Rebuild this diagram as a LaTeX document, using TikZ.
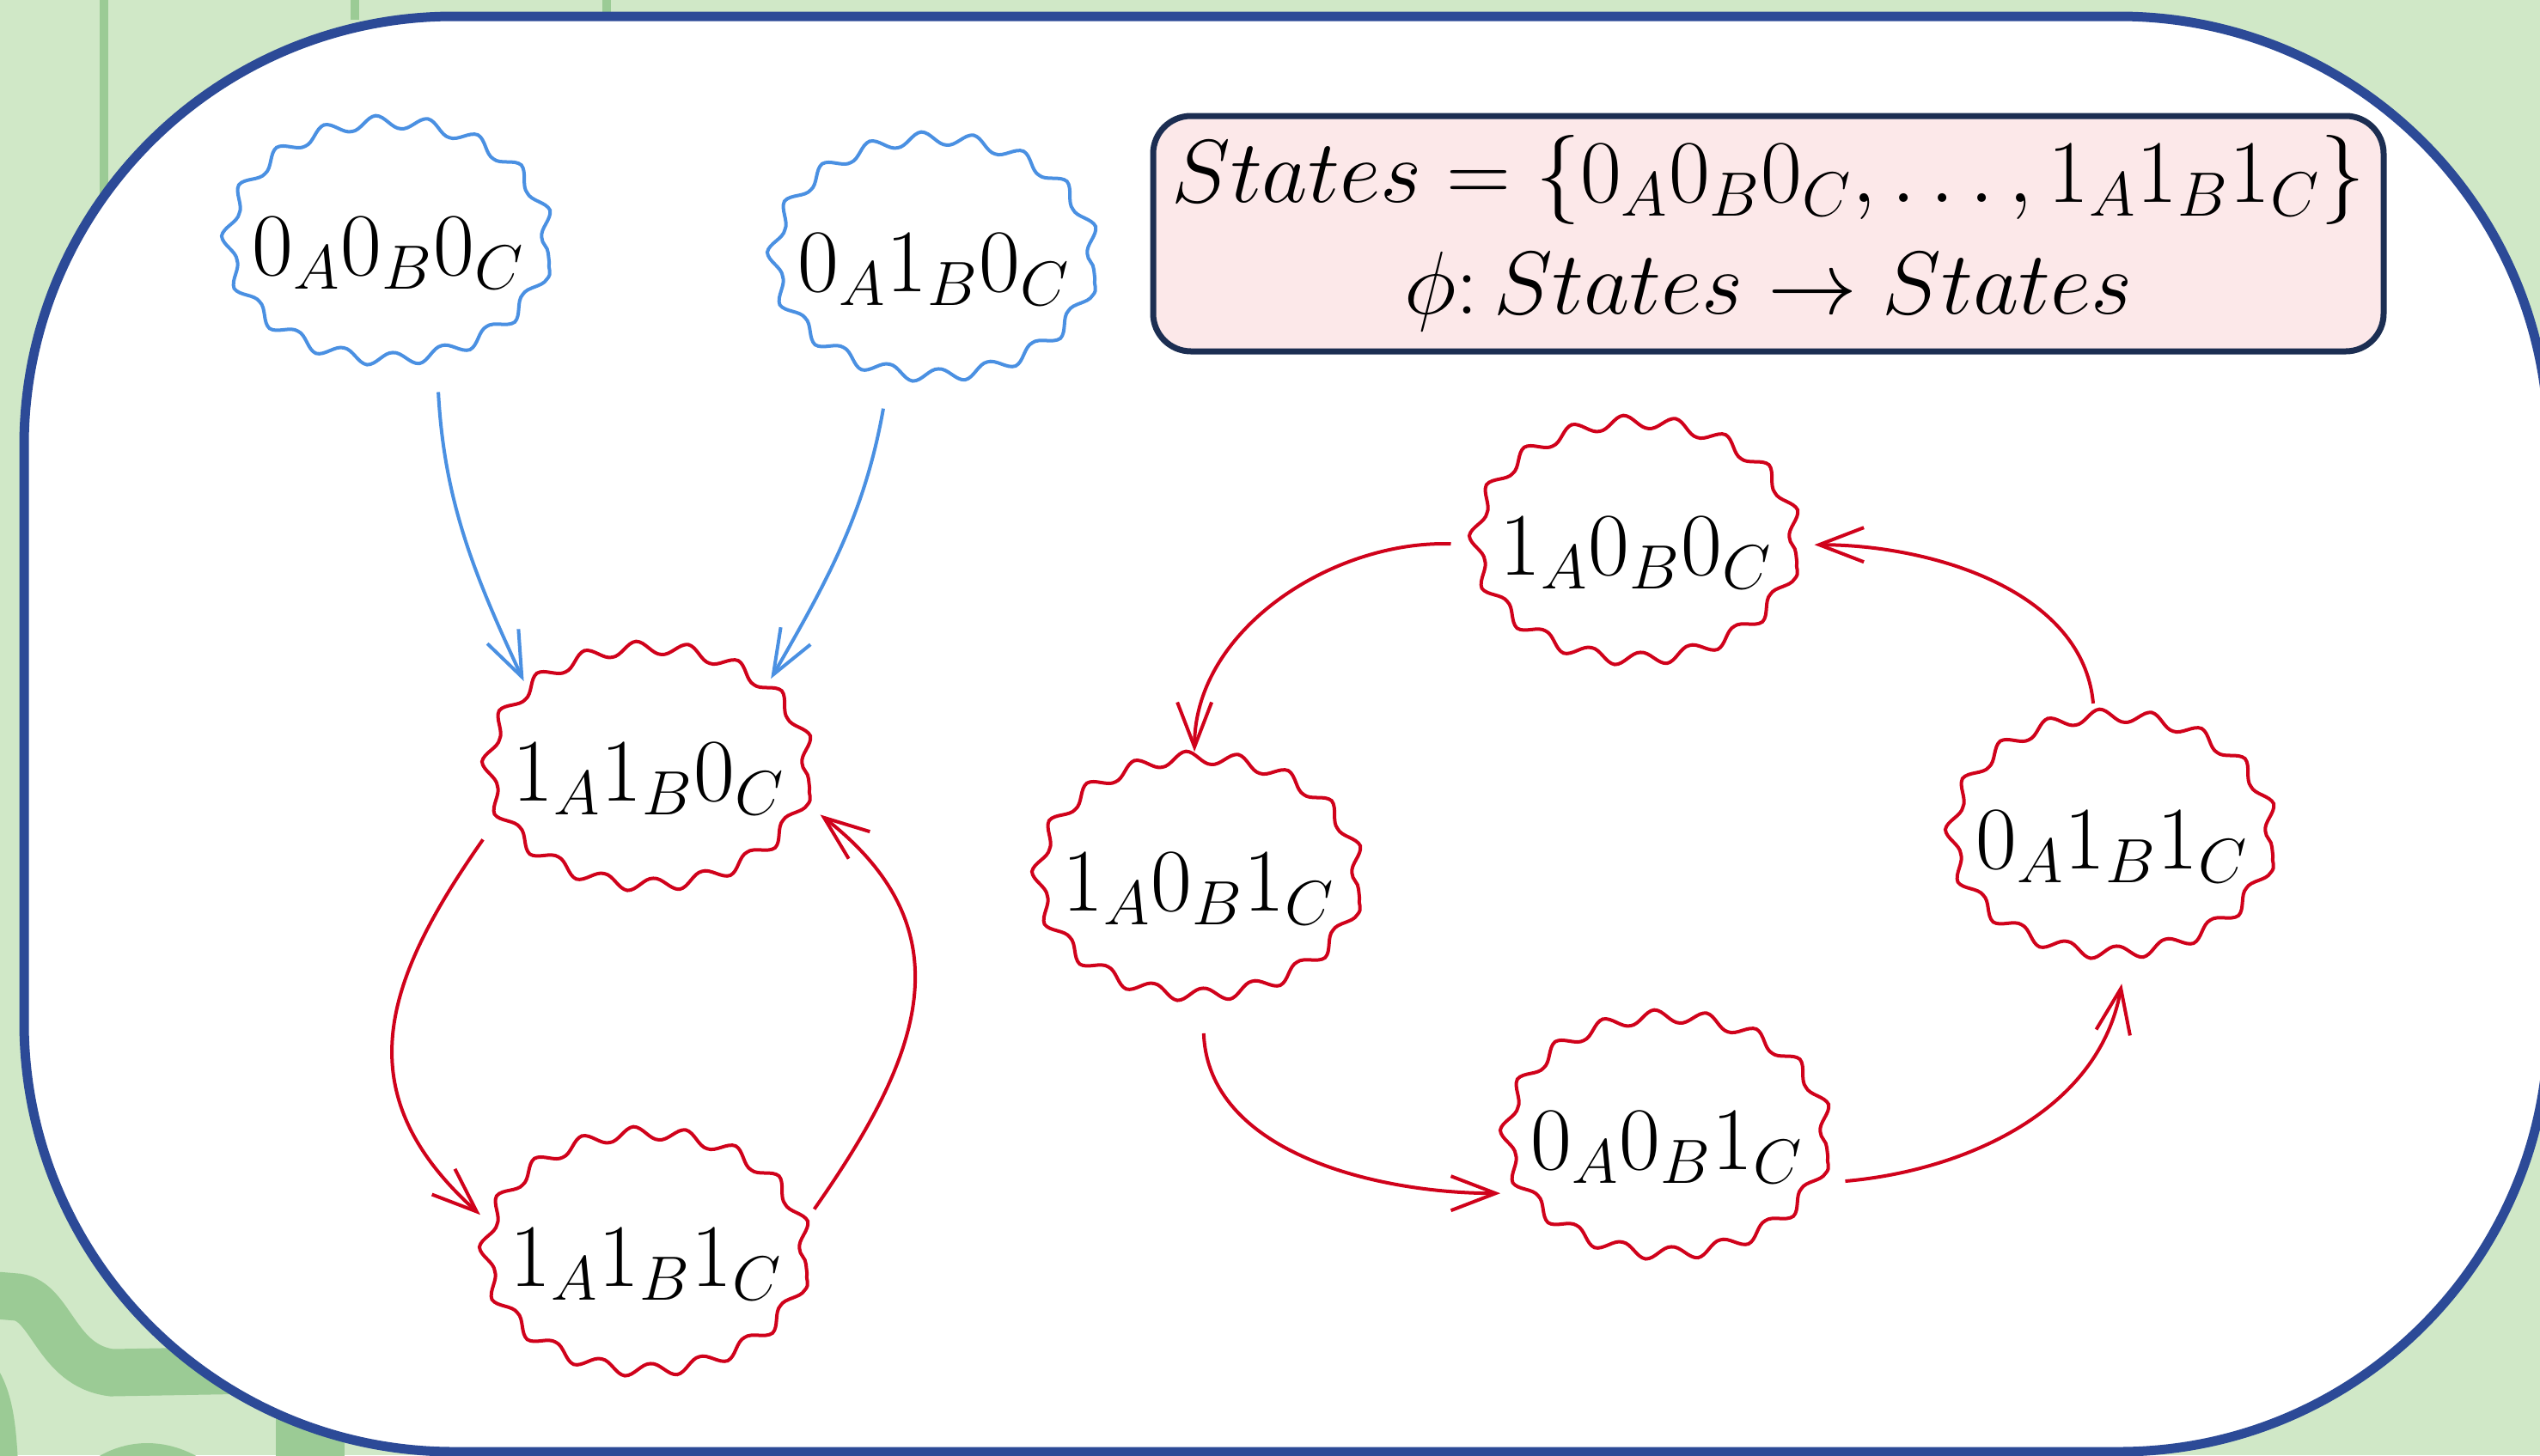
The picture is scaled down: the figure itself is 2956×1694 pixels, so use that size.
\documentclass[tikz,border=0pt]{standalone}
\usepackage{fix-cm}
\usetikzlibrary{shapes.geometric,decorations.pathmorphing,arrows.meta}
\definecolor{bggreen}{RGB}{208,232,199}
\definecolor{dkgreen}{RGB}{155,203,149}
\definecolor{panelblue}{RGB}{44,74,151}
\definecolor{nodeblue}{RGB}{74,144,226}
\definecolor{nodered}{RGB}{208,2,27}
\definecolor{boxpink}{RGB}{252,232,233}
\definecolor{boxnavy}{RGB}{28,46,82}
\begin{document}
\begin{tikzpicture}[x=0.25pt,y=-0.25pt,
  cloud/.style={ellipse, minimum width=93pt, minimum height=69pt, inner sep=0pt,
    line width=1pt, draw, decorate,
    decoration={snake, segment length=14.8pt, amplitude=1.9pt}},
  bcloud/.style={cloud, draw=nodeblue},
  rcloud/.style={cloud, draw=nodered},
  lab/.style={font=\fontsize{26pt}{31pt}\selectfont, inner sep=0pt},
  conn/.style={line width=1pt, -{Straight Barb[length=13pt,width=10pt,line width=1pt]},
    shorten <=7pt, shorten >=5pt},
  bconn/.style={conn, draw=nodeblue},
  rconn/.style={conn, draw=nodered},
  band/.style={draw=dkgreen, line cap=round}
]
% background
\fill[bggreen] (0,0) rectangle (2956,1694);
\useasboundingbox (0,0) rectangle (2956,1694);
\draw[band, line width=2.5pt, line cap=butt] (121,-10) -- (121,700);
\draw[band, line width=2.5pt, line cap=butt] (413,-10) -- (413,23);
\draw[band, line width=2.5pt, line cap=butt] (706,-10) -- (706,40);
\draw[band, line width=13.75pt] (-40,1505) -- (20,1510) .. controls (60,1515) and (65,1590) .. (130,1598) -- (300,1595);
\draw[band, line width=13.75pt] (-40,1590) .. controls (-10,1620) and (-8,1660) .. (-5,1740);
\draw[band, line width=13.75pt] (90,1760) .. controls (130,1690) and (210,1690) .. (260,1760);
\draw[band, line width=20pt, line cap=butt] (361,1550) -- (361,1720);
% main panel
\draw[line width=2.75pt, draw=panelblue, fill=white, rounded corners=125pt] (28,19) rectangle (2966,1690);
% definition box
\node[draw=boxnavy, line width=1.75pt, fill=boxpink, rounded corners=11pt,
  minimum width=358pt, minimum height=68.5pt, inner sep=0pt, align=center,
  font=\fontsize{26pt}{32.5pt}\selectfont] (box) at (2058,272)
  {$States = \{0_A0_B0_C, \dots, 1_A1_B1_C\}$\\ $\phi\colon States \rightarrow States$};
% state nodes
\node[bcloud, label={[lab]center:$0_A0_B0_C$}] (n1) at (452,295) {};
\node[bcloud, label={[lab]center:$0_A1_B0_C$}] (n2) at (1087,314) {};
\node[rcloud, label={[lab]center:$1_A1_B0_C$}] (n3) at (755,907) {};
\node[rcloud, label={[lab]center:$1_A1_B1_C$}] (n4) at (752,1472) {};
\node[rcloud, label={[lab]center:$1_A0_B0_C$}] (n5) at (1904,644) {};
\node[rcloud, label={[lab]center:$1_A0_B1_C$}] (n6) at (1395,1035) {};
\node[rcloud, label={[lab]center:$0_A1_B1_C$}] (n7) at (2458,986) {};
\node[rcloud, label={[lab]center:$0_A0_B1_C$}] (n8) at (1940,1336) {};
% connectors
\draw[bconn] (n1.-67) to[out=-87,in=115] (n3.145);
\draw[bconn] (n2.-112) to[out=-100,in=60] (n3.37);
\draw[rconn] (n3.-165) to[out=-125,in=138,looseness=1.25] (n4.166);
\draw[rconn] (n4.13) to[out=55,in=-38,looseness=1.25] (n3.-9);
\draw[rconn] (n5.177) to[out=178,in=90] (n6.92);
\draw[rconn] (n6.-88) to[out=-88,in=180] (n8.-163);
\draw[rconn] (n8.-13) to[out=5,in=-100] (n7.-84);
\draw[rconn] (n7.98) to[out=95,in=0] (n5.3);
\end{tikzpicture}
\end{document}
